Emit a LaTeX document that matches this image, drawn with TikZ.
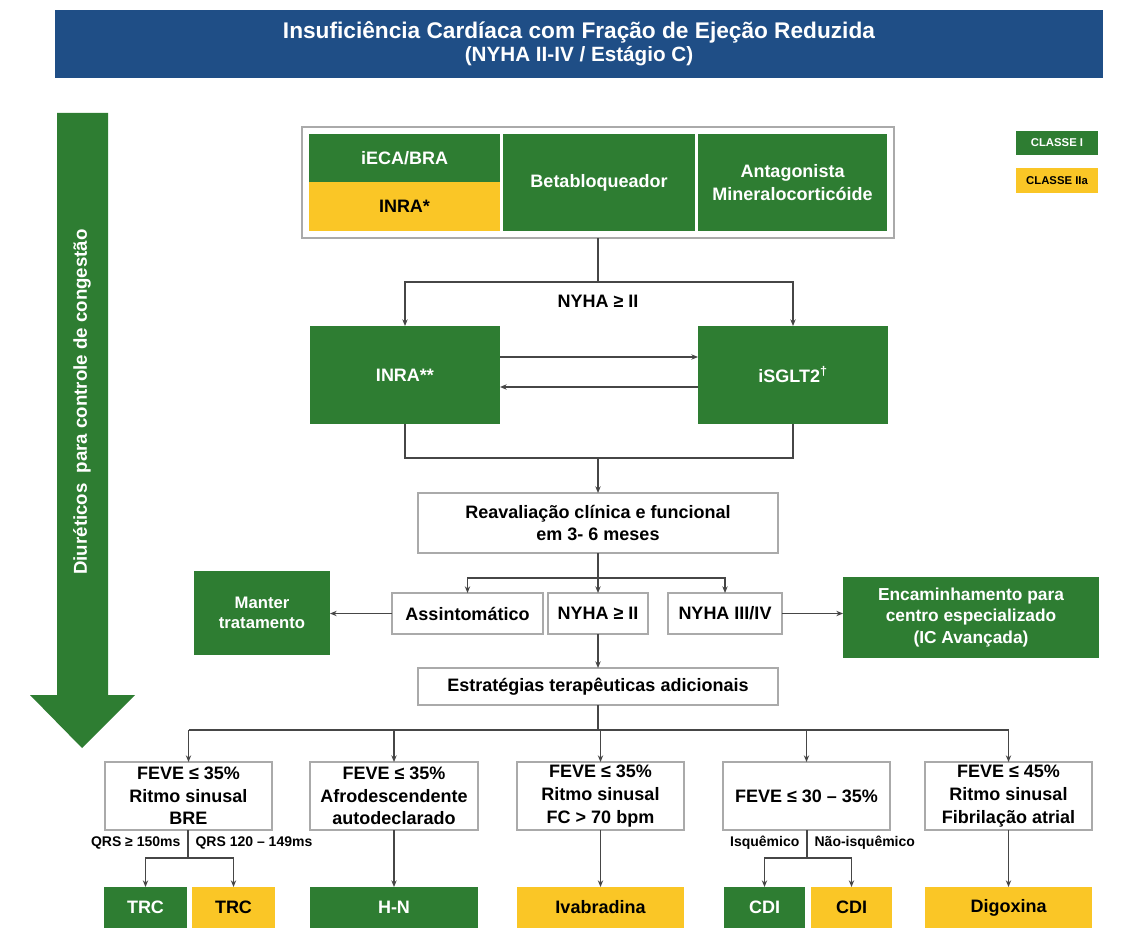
\documentclass[tikz,border=0pt]{standalone}
\usepackage{fontspec}
\setmainfont{Liberation Sans}
\usetikzlibrary{arrows.meta}
\definecolor{cgreen}{RGB}{46,125,50}
\definecolor{cyellow}{RGB}{250,198,38}
\definecolor{cblue}{RGB}{31,78,134}
\definecolor{cframe}{RGB}{170,170,170}
\definecolor{cline}{RGB}{70,70,70}
% box given by its corners in pixel units: name, x1, y1, x2, y2, style, text
\newcommand\pbox[7]{\node[#6, minimum width={(#4-#2)*0.75pt}, minimum height={(#5-#3)*0.75pt}] (#1) at ({(#2+#4)/2},{(#3+#5)/2}) {#7};}
\begin{document}
\begin{tikzpicture}[x=0.75pt,y=-0.75pt,
  base/.style={inner sep=0pt, outer sep=0pt, align=center, font=\bfseries\fontsize{13.5}{17}\selectfont},
  gbox/.style={base, fill=cgreen, text=white},
  ybox/.style={base, fill=cyellow, text=black},
  wbox/.style={base, draw=cframe, line width=0.8pt, fill=white, text=black},
  ln/.style={draw=cline, line width=0.8pt},
  arr/.style={ln, -{Stealth[length=5pt,width=4pt]}},
  lbl/.style={inner sep=1pt, font=\bfseries\fontsize{10.5}{12}\selectfont}]
\useasboundingbox (0,0) rectangle (1132,934);

% title banner
\pbox{title}{55}{10}{1103}{78}{base, fill=cblue, text=white}{{\fontsize{17}{25}\selectfont Insuficiência Cardíaca com Fração de Ejeção Reduzida}\\{\fontsize{15.5}{20}\selectfont (NYHA II-IV / Estágio C)}}

% diuretics arrow
\path[fill=cgreen] (57,113) -- (108,113) -- (108,695) -- (135,695) -- (82,748) -- (30,695) -- (57,695) -- cycle;
\node[rotate=90, text=white, font=\bfseries\fontsize{14}{17}\selectfont] (diur) at (82,402) {Diuréticos\ \ para controle de congestão};

% legend
\pbox{leg1}{1016}{131}{1098}{155}{gbox, font=\bfseries\fontsize{8.5}{10}\selectfont}{CLASSE I}
\pbox{leg2}{1016}{168}{1098}{193}{ybox, font=\bfseries\fontsize{8.5}{10}\selectfont}{CLASSE IIa}

% basic therapy block
\pbox{frame}{302}{127}{894}{238}{wbox}{}
\pbox{ieca}{309}{134}{500}{182}{gbox}{iECA/BRA}
\pbox{inraA}{309}{182}{500}{231}{ybox}{INRA*}
\pbox{beta}{503}{134}{695}{231}{gbox}{Betabloqueador}
\pbox{antag}{698}{134}{887}{231}{gbox}{Antagonista\\Mineralocorticóide}

% INRA / iSGLT2
\pbox{inraB}{310}{326}{500}{424}{gbox}{INRA**}
\pbox{isglt}{698}{326}{888}{424}{gbox}{iSGLT2\textsuperscript{†}}
\coordinate (s1) at (598,282);
\draw[ln] (frame.south) -- (s1);
\draw[arr] (s1) -| (inraB.north);
\draw[arr] (s1) -| (isglt.north);
\node[font=\bfseries\fontsize{13.5}{16}\selectfont] (nyhaA) at (598,301) {NYHA ≥ II};
\draw[arr] (inraB.east |- 0,357) -- (isglt.west |- 0,357);
\draw[arr] (isglt.west |- 0,387) -- (inraB.east |- 0,387);

% reassessment
\pbox{reav}{418}{493}{778}{553}{wbox}{Reavaliação clínica e funcional\\em 3- 6 meses}
\coordinate (m1) at (598,458);
\draw[ln] (inraB.south) |- (m1) -| (isglt.south);
\draw[arr] (m1) -- (reav.north);

% outcome row
\pbox{assint}{392}{593}{543}{634}{wbox}{Assintomático}
\pbox{nyhaB}{548}{593}{648}{634}{wbox}{NYHA ≥ II}
\pbox{nyhaC}{668}{593}{782}{634}{wbox}{NYHA III/IV}
\pbox{manter}{194}{571}{330}{655}{gbox, font=\bfseries\fontsize{12.5}{15}\selectfont}{Manter\\tratamento}
\pbox{encam}{843}{577}{1099}{658}{gbox, font=\bfseries\fontsize{13}{16}\selectfont}{Encaminhamento para\\centro especializado\\(IC Avançada)}
\coordinate (s2) at (598,578);
\draw[ln] (reav.south) -- (s2);
\draw[arr] (s2) -| (assint.north);
\draw[arr] (s2) -| (nyhaC.north);
\draw[arr] (s2) -- (nyhaB.north);
\draw[arr] (assint.west) -- (manter.east |- assint.west);
\draw[arr] (nyhaC.east) -- (encam.west |- nyhaC.east);

% additional strategies
\pbox{estr}{418}{668}{778}{705}{wbox}{Estratégias terapêuticas adicionais}
\draw[arr] (nyhaB.south) -- (estr.north);

\pbox{c1}{105}{762}{272}{830}{wbox}{FEVE ≤ 35\%\\Ritmo sinusal\\BRE}
\pbox{c2}{310}{762}{478}{830}{wbox}{FEVE ≤ 35\%\\Afrodescendente\\autodeclarado}
\pbox{c3}{517}{762}{684}{830}{wbox}{FEVE ≤ 35\%\\Ritmo sinusal\\FC > 70 bpm}
\pbox{c4}{723}{762}{890}{830}{wbox}{FEVE ≤ 30 – 35\%}
\pbox{c5}{925}{762}{1092}{830}{wbox}{FEVE ≤ 45\%\\Ritmo sinusal\\Fibrilação atrial}
\coordinate (s3) at (598,730);
\draw[ln] (estr.south) -- (s3);
\draw[ln] (c1.north |- s3) -- (c5.north |- s3);
\foreach \c in {c1,c2,c3,c4,c5} \draw[arr] (\c.north |- s3) -- (\c.north);

% final therapies
\pbox{trcA}{104}{887}{187}{928}{gbox}{TRC}
\pbox{trcB}{192}{887}{275}{928}{ybox}{TRC}
\pbox{hn}{310}{887}{478}{928}{gbox}{H-N}
\pbox{ivab}{517}{887}{684}{928}{ybox}{Ivabradina}
\pbox{cdiA}{724}{887}{805}{928}{gbox}{CDI}
\pbox{cdiB}{811}{887}{892}{928}{ybox}{CDI}
\pbox{digo}{925}{887}{1092}{928}{ybox}{Digoxina}

\coordinate (q1) at (188,858);
\draw[ln] (c1.south -| q1) -- (q1);
\draw[arr] (q1) -| (trcA.north);
\draw[arr] (q1) -| (trcB.north);
\node[lbl, anchor=east] (qrsA) at (182,843) {QRS ≥ 150ms};
\node[lbl, anchor=west] (qrsB) at (194,843) {QRS 120 – 149ms};

\coordinate (q4) at (807,858);
\draw[ln] (c4.south -| q4) -- (q4);
\draw[arr] (q4) -| (cdiA.north);
\draw[arr] (q4) -| (cdiB.north);
\node[lbl, anchor=east] (isq) at (801,843) {Isquêmico};
\node[lbl, anchor=west] (nisq) at (813,843) {Não-isquêmico};

\draw[arr] (c2.south) -- (hn.north);
\draw[arr] (c3.south) -- (ivab.north);
\draw[arr] (c5.south) -- (digo.north);
\end{tikzpicture}
\end{document}
